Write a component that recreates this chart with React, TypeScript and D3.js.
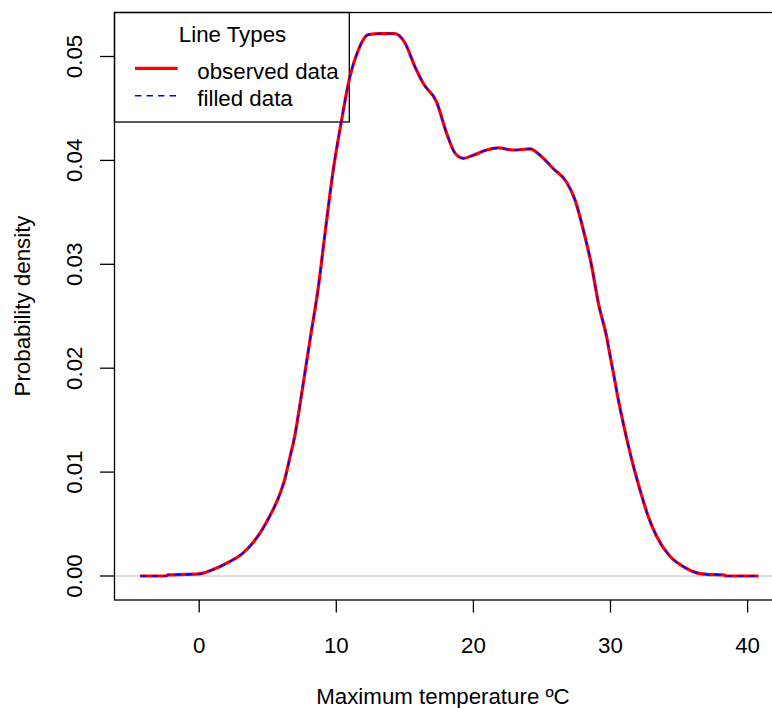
import React from "react";
import * as d3 from "d3";

const temperature = [
  -4.3, -2.4, -2.3, -1.0, 0.0, 0.79, 2.25, 3.19, 3.92, 4.56, 5.16, 5.77, 6.26, 6.63, 6.99, 7.23, 7.48,
  8.08, 8.69, 9.18, 9.78, 10.39, 11.0, 11.6, 12.33, 13.19, 14.28, 15.01, 15.74, 16.35, 17.32, 18.05,
  18.66, 19.26, 19.99, 20.97, 21.82, 22.91, 24.13, 24.86, 25.83, 26.8, 27.41, 28.02, 28.63, 29.11,
  29.72, 30.0, 30.33, 30.45, 30.93, 31.55, 32.15, 32.76, 33.37, 34.34, 35.31, 36.29, 37.02, 38.23,
  38.48, 40.8,
];
const observedDensity = [
  0, 0, 0.0001, 0.00015, 0.0002, 0.0005, 0.0014, 0.0022, 0.0032, 0.0044, 0.0058, 0.0075, 0.0094,
  0.0115, 0.0136, 0.0155, 0.0176, 0.0227, 0.0278, 0.033, 0.0391, 0.0439, 0.0481, 0.0506, 0.0521,
  0.0522, 0.0522, 0.0513, 0.049, 0.0474, 0.0456, 0.0426, 0.0407, 0.0402, 0.0405, 0.041, 0.0412,
  0.041, 0.0411, 0.0405, 0.0392, 0.0379, 0.0362, 0.0333, 0.0298, 0.0263, 0.023, 0.021, 0.0187,
  0.0178, 0.0147, 0.0112, 0.0083, 0.0057, 0.0038, 0.0019, 0.0009, 0.0003, 0.00016, 0.0001, 0, 0,
];
const filledDensity = [
  0, 0, 0.0001, 0.00015, 0.0002, 0.0005, 0.0014, 0.0022, 0.0032, 0.0044, 0.0058, 0.0075, 0.0094,
  0.0115, 0.0136, 0.0155, 0.0176, 0.0227, 0.0278, 0.033, 0.0391, 0.0439, 0.0481, 0.0506, 0.0521,
  0.0522, 0.0522, 0.0513, 0.049, 0.0474, 0.0456, 0.0426, 0.0407, 0.0402, 0.0405, 0.041, 0.0412,
  0.041, 0.0411, 0.0405, 0.0392, 0.0379, 0.0362, 0.0333, 0.0298, 0.0263, 0.023, 0.021, 0.0187,
  0.0178, 0.0147, 0.0112, 0.0083, 0.0057, 0.0038, 0.0019, 0.0009, 0.0003, 0.00016, 0.0001, 0, 0,
];
const xTicks = [0, 10, 20, 30, 40];
const yTicks = [0, 0.01, 0.02, 0.03, 0.04, 0.05];
const legendTitle = "Line Types";
const legendLabels = ["observed data", "filled data"];
const xTitle = "Maximum temperature ºC";
const yTitle = "Probability density";

const W = 772;
const H = 708;
const FONT = "'Liberation Sans', Arial, Helvetica, sans-serif";
const FS = 22.3;

export default function App() {
  const x = d3.scaleLinear().domain([0, 40]).range([199.2, 747.6]);
  const y = d3.scaleLinear().domain([0, 0.05]).range([576, 56.5]);
  const box = { left: 114.5, right: 783, top: 12.5, bottom: 600 };

  const line = (vals: number[]) =>
    d3
      .line<number>()
      .x((_, i) => x(temperature[i]))
      .y((d) => y(d))
      .curve(d3.curveMonotoneX)(vals) || "";

  const lg = { left: 114.5, top: 12.5, right: 349.3, bottom: 122 };

  return (
    <svg
      width={W}
      height={H}
      style={{ position: "absolute", left: 0, top: 0, background: "#fff" }}
      fontFamily={FONT}
    >
      <rect x={0} y={0} width={W} height={H} fill="#fff" />
      {/* zero reference line */}
      <line x1={box.left} x2={box.right} y1={y(0)} y2={y(0)} stroke="#bebebe" strokeWidth={1.2} />
      {/* legend */}
      <rect
        x={lg.left}
        y={lg.top}
        width={lg.right - lg.left}
        height={lg.bottom - lg.top}
        fill="#fff"
        stroke="#000"
        strokeWidth={1.3}
      />
      <text x={232.5} y={41.7} textAnchor="middle" fontSize={FS} fill="#000">
        {legendTitle}
      </text>
      <line x1={135} x2={177.7} y1={68.3} y2={68.3} stroke="#ff0000" strokeWidth={3.2} />
      <line x1={135} x2={177.7} y1={95.7} y2={95.7} stroke="#0000ff" strokeWidth={1.6} strokeDasharray="6.5,5" />
      <text x={197.3} y={79.3} fontSize={FS} fill="#000">
        {legendLabels[0]}
      </text>
      <text x={197.3} y={106} fontSize={FS} fill="#000">
        {legendLabels[1]}
      </text>
      {/* curves */}
      <path d={line(observedDensity)} fill="none" stroke="#ff0000" strokeWidth={3.2} strokeLinejoin="round" />
      <path d={line(filledDensity)} fill="none" stroke="#0000ff" strokeWidth={1.6} strokeDasharray="6.5,5" />
      {/* plot box */}
      <rect
        x={box.left}
        y={box.top}
        width={box.right - box.left}
        height={box.bottom - box.top}
        fill="none"
        stroke="#000"
        strokeWidth={1.3}
      />
      {/* x axis */}
      {xTicks.map((t) => (
        <g key={"x" + t}>
          <line x1={x(t)} x2={x(t)} y1={box.bottom} y2={box.bottom + 12.5} stroke="#000" strokeWidth={1.3} />
          <text x={x(t)} y={653} textAnchor="middle" fontSize={FS} fill="#000">
            {t}
          </text>
        </g>
      ))}
      {/* y axis */}
      {yTicks.map((t) => (
        <g key={"y" + t}>
          <line x1={box.left - 14.5} x2={box.left} y1={y(t)} y2={y(t)} stroke="#000" strokeWidth={1.3} />
          <text
            transform={`translate(82,${y(t)}) rotate(-90)`}
            textAnchor="middle"
            fontSize={FS}
            fill="#000"
          >
            {d3.format(".2f")(t)}
          </text>
        </g>
      ))}
      {/* titles */}
      <text x={443} y={704} textAnchor="middle" fontSize={FS} fill="#000">
        {xTitle}
      </text>
      <text transform={`translate(29.5,306) rotate(-90)`} textAnchor="middle" fontSize={FS} fill="#000">
        {yTitle}
      </text>
    </svg>
  );
}
